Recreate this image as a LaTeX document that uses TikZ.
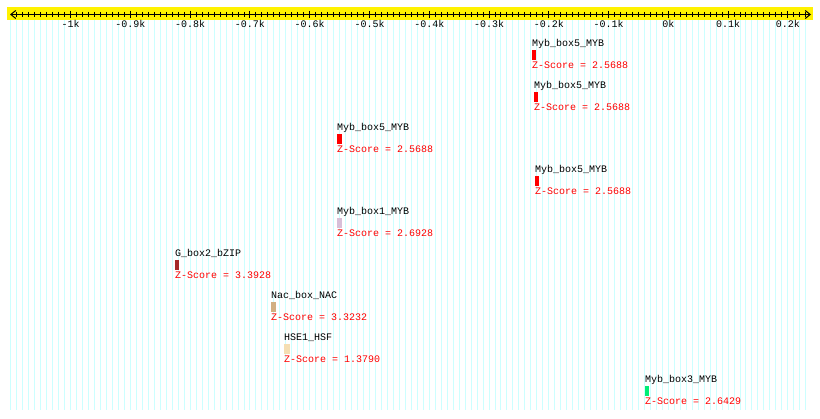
\documentclass[tikz,border=0pt]{standalone}
\usepackage{fontspec}
\setmonofont{Liberation Mono}
\usetikzlibrary{arrows.meta}
\definecolor{gridcyan}{RGB}{204,255,255}
\definecolor{zred}{RGB}{255,0,0}
\definecolor{mybone}{RGB}{216,191,216}
\definecolor{gbrown}{RGB}{165,42,42}
\definecolor{nactan}{RGB}{210,175,130}
\definecolor{hsewheat}{RGB}{245,222,179}
\definecolor{mybthree}{RGB}{0,238,118}
\tikzset{
  band/.style={fill=yellow, draw=none},
  grd/.style={draw=gridcyan, line width=1pt},
  axln/.style={draw=black, line width=1pt,
               {Straight Barb[length=5pt,width=8pt]}-{Straight Barb[length=5pt,width=8pt]}},
  tk/.style={draw=black, line width=1pt},
  axlab/.style={font=\ttfamily\fontsize{10}{12}\selectfont, inner sep=0pt, anchor=base},
  mname/.style={font=\ttfamily\fontsize{10}{12}\selectfont, inner sep=0pt, anchor=base west},
  zlab/.style={mname, text=zred},
  bx/.style={draw=none, inner sep=0pt, minimum height=10pt, anchor=north west},
}
\begin{document}
\begin{tikzpicture}[x=1pt, y=-1pt]
  \useasboundingbox (0,0) rectangle (820,419);
  \fill[white] (0,0) rectangle (820,419);
  % ruler
  \fill[band] (7,7) rectangle (813,20);
  \begin{scope}[xshift=668.3pt, x=0.5976pt]
    \foreach \u in {-1100,-1090,...,230}
      \draw[grd] (\u,20) -- (\u,410);
    \foreach \u in {-1090,-1080,...,230}
      \draw[tk] (\u,12) -- (\u,17);
    \foreach \u in {-1000,-900,...,200}
      \draw[tk] (\u,11) -- (\u,18);
    \foreach \u/\t in {-1000/-1k,-900/-0.9k,-800/-0.8k,-700/-0.7k,-600/-0.6k,
                       -500/-0.5k,-400/-0.4k,-300/-0.3k,-200/-0.2k,-100/-0.1k,
                       0/0k,100/0.1k,200/0.2k}
      \node[axlab] (lab\u) at (\u,27.5) {\t};
  \end{scope}
  \coordinate (axl) at (10,14.5);
  \coordinate (axr) at (811,14.5);
  \draw[axln] (axl) -- (axr);
  % sites
  \node[mname] (n1) at (532,46.5) {Myb\_box5\_MYB};
  \node[bx, fill=zred, minimum width=3.6pt] (b1) at (532,49.5) {};
  \node[zlab] (z1) at (532,68.5) {Z-Score = 2.5688};
  \node[mname] (n2) at (534,88.5) {Myb\_box5\_MYB};
  \node[bx, fill=zred, minimum width=3.6pt] (b2) at (534,91.5) {};
  \node[zlab] (z2) at (534,110.5) {Z-Score = 2.5688};
  \node[mname] (n3) at (337,130.5) {Myb\_box5\_MYB};
  \node[bx, fill=zred, minimum width=4.5pt] (b3) at (337,133.5) {};
  \node[zlab] (z3) at (337,152.5) {Z-Score = 2.5688};
  \node[mname] (n4) at (535,172.5) {Myb\_box5\_MYB};
  \node[bx, fill=zred, minimum width=4pt] (b4) at (535,175.5) {};
  \node[zlab] (z4) at (535,194.5) {Z-Score = 2.5688};
  \node[mname] (n5) at (337,214.5) {Myb\_box1\_MYB};
  \node[bx, fill=mybone, minimum width=4.5pt] (b5) at (337,217.5) {};
  \node[zlab] (z5) at (337,236.5) {Z-Score = 2.6928};
  \node[mname] (n6) at (175,256.5) {G\_box2\_bZIP};
  \node[bx, fill=gbrown, minimum width=4pt] (b6) at (175,259.5) {};
  \node[zlab] (z6) at (175,278.5) {Z-Score = 3.3928};
  \node[mname] (n7) at (271,298.5) {Nac\_box\_NAC};
  \node[bx, fill=nactan, minimum width=4.5pt] (b7) at (271,301.5) {};
  \node[zlab] (z7) at (271,320.5) {Z-Score = 3.3232};
  \node[mname] (n8) at (284,340.5) {HSE1\_HSF};
  \node[bx, fill=hsewheat, minimum width=6pt] (b8) at (284,343.5) {};
  \node[zlab] (z8) at (284,362.5) {Z-Score = 1.3790};
  \node[mname] (n9) at (645,382.5) {Myb\_box3\_MYB};
  \node[bx, fill=mybthree, minimum width=4pt] (b9) at (645,385.5) {};
  \node[zlab] (z9) at (645,404.5) {Z-Score = 2.6429};
\end{tikzpicture}
\end{document}
